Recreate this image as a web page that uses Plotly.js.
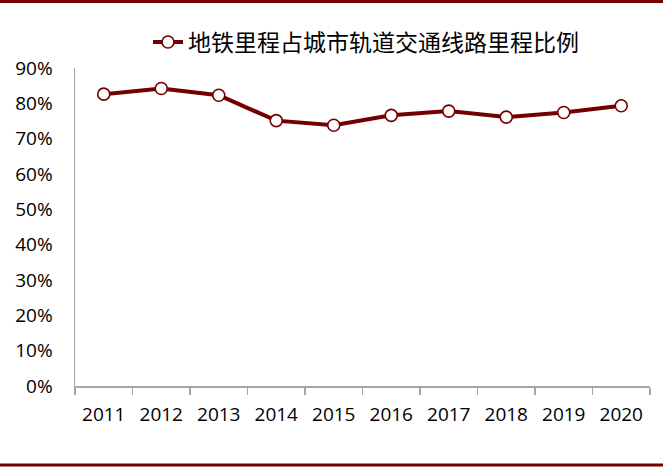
<!DOCTYPE html>
<html>
<head>
<meta charset="utf-8">
<script src="https://cdn.plot.ly/plotly-3.0.1.min.js"></script>
<style>
html,body{margin:0;padding:0;background:#fff;}
#chart{width:663px;height:467px;}
</style>
</head>
<body>
<div id="chart"></div>
<script>
const years = ['2011','2012','2013','2014','2015','2016','2017','2018','2019','2020'];
const metroShare = [0.826, 0.842, 0.823, 0.751, 0.738, 0.766, 0.778, 0.761, 0.774, 0.793];
const seriesName = '地铁里程占城市轨道交通线路里程比例';
const yTickVals = [0,0.1,0.2,0.3,0.4,0.5,0.6,0.7,0.8,0.9];

const maroon = '#720000';
const axisGray = '#A6A6A6';

// plot area pixel geometry
const L = 75, R = 13, T = 68, B = 81;
const W = 663, H = 467;
const pw = W - L - R, ph = H - T - B;
const px2paperX = x => (x - L) / pw;
const px2paperY = y => (H - B - y) / ph;

const trace = {
  x: years,
  y: metroShare,
  type: 'scatter',
  mode: 'lines+markers',
  name: seriesName,
  line: {color: maroon, width: 4},
  marker: {symbol: 'circle', size: 12, color: '#ffffff', line: {color: maroon, width: 1.6}},
  cliponaxis: false
};

const tickFont = {family: '"Open Sans", "Liberation Sans", sans-serif', size: 19, color: '#000'};

const layout = {
  width: W, height: H,
  margin: {l: L, r: R, t: T, b: B, pad: 0},
  paper_bgcolor: '#ffffff',
  plot_bgcolor: '#ffffff',
  showlegend: true,
  legend: {
    orientation: 'h',
    x: px2paperX(148), xanchor: 'left',
    y: px2paperY(42), yanchor: 'middle',
    font: {family: '"Noto Sans CJK SC", sans-serif', size: 23, color: '#000'},
    bgcolor: 'rgba(0,0,0,0)',
    itemwidth: 30
  },
  xaxis: {
    type: 'category',
    range: [-0.5, 9.5],
    showline: true, linecolor: axisGray, linewidth: 1.5,
    showgrid: false, zeroline: false,
    ticks: 'outside', tickson: 'boundaries', ticklen: 7, tickcolor: axisGray, tickwidth: 1.5,
    tickfont: tickFont,
    ticklabelstandoff: 11,
    fixedrange: true
  },
  yaxis: {
    range: [0, 0.9],
    tickvals: yTickVals,
    tickformat: '.0%',
    showline: true, linecolor: axisGray, linewidth: 1.5,
    showgrid: false, zeroline: false,
    ticks: '',
    tickfont: tickFont,
    ticklabelstandoff: 17,
    fixedrange: true
  },
  shapes: [
    {type: 'line', xref: 'paper', yref: 'paper',
     x0: px2paperX(0), x1: px2paperX(W), y0: px2paperY(1.5), y1: px2paperY(1.5),
     line: {color: maroon, width: 3}},
    {type: 'line', xref: 'paper', yref: 'paper',
     x0: px2paperX(0), x1: px2paperX(W), y0: px2paperY(465), y1: px2paperY(465),
     line: {color: maroon, width: 3}}
  ]
};

Plotly.newPlot('chart', [trace], layout, {displayModeBar: false, staticPlot: true});
</script>
</body>
</html>
